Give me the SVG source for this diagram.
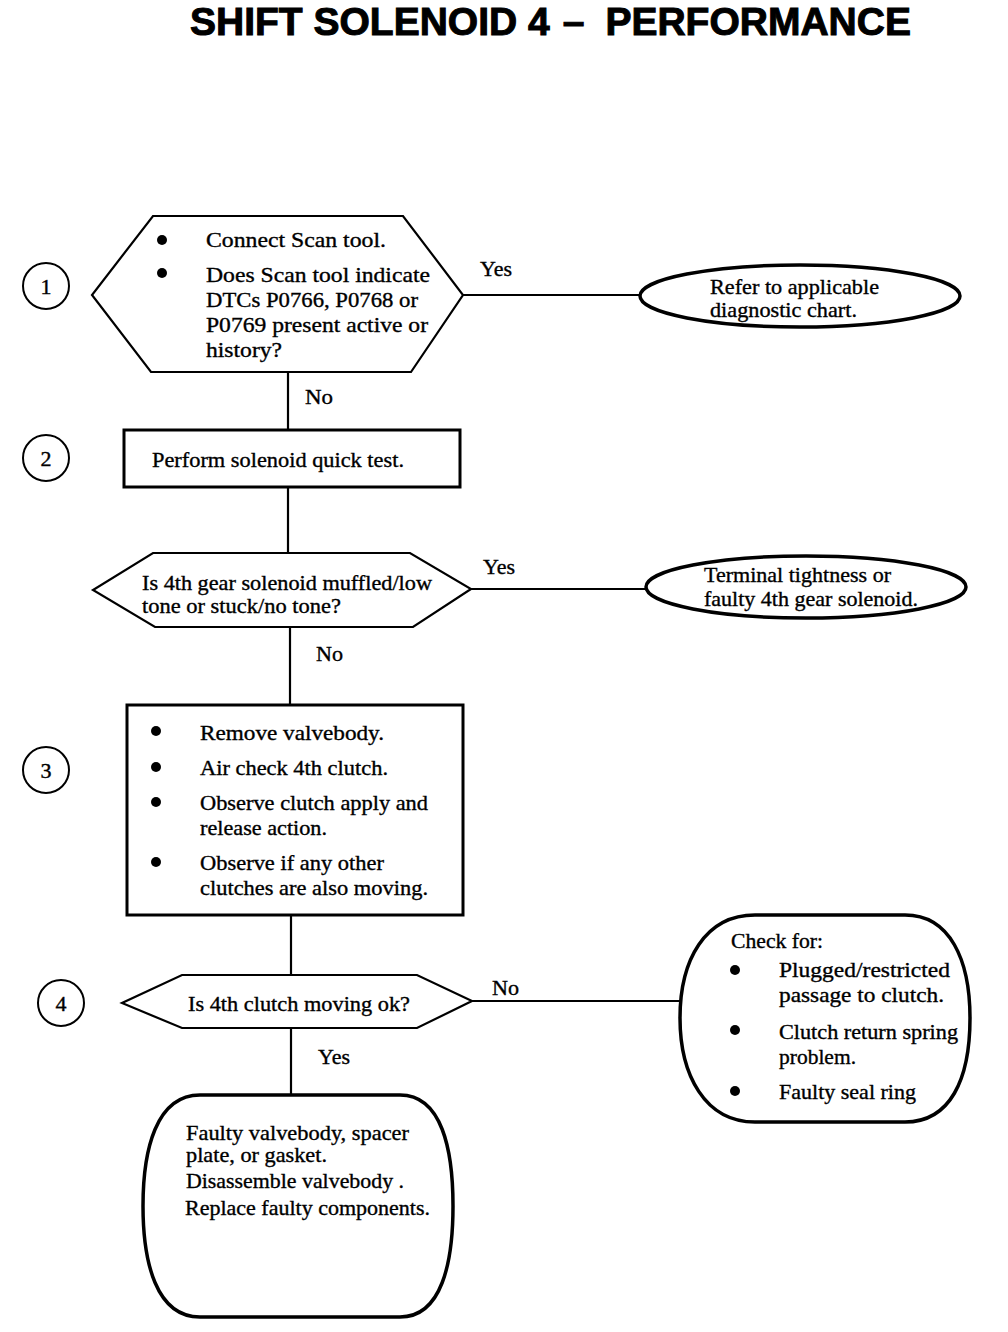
<svg xmlns="http://www.w3.org/2000/svg" width="1008" height="1332" viewBox="0 0 1008 1332">
<style>
  .t { font-family: "Liberation Sans", Arial, sans-serif; }
  .t { font-family: "Liberation Serif", "Times New Roman", serif; font-size: 21px; fill: #000; stroke: #000; stroke-width: 0.35; }
  .title { font-family: "Liberation Sans", Arial, sans-serif; font-size: 39px; font-weight: bold; fill: #000; stroke: #000; stroke-width: 1; }
  .num { font-family: "Liberation Serif", "Times New Roman", serif; font-size: 22px; fill: #000; stroke: #000; stroke-width: 0.4; text-anchor: middle; }
  .hex { fill: #fff; stroke: #000; stroke-width: 2.2; }
  .box { fill: #fff; stroke: #000; stroke-width: 3; }
  .term { fill: #fff; stroke: #000; stroke-width: 3.5; }
  .circ { fill: #fff; stroke: #000; stroke-width: 2; }
  .conn line { stroke: #000; stroke-width: 2.2; }
</style>
<rect width="1008" height="1332" fill="#fff"/>
<g id="title">
  <text class="title" x="190" y="35">SHIFT SOLENOID 4<tspan dx="13">–</tspan><tspan dx="21">PERFORMANCE</tspan></text>
</g>

<g id="connectors" class="conn">
  <line x1="463" y1="295" x2="641" y2="295"/>
  <line x1="288" y1="372" x2="288" y2="430"/>
  <line x1="288" y1="487" x2="288" y2="553"/>
  <line x1="471" y1="589" x2="646" y2="589"/>
  <line x1="290" y1="627" x2="290" y2="705"/>
  <line x1="291" y1="915" x2="291" y2="975"/>
  <line x1="472" y1="1001" x2="680" y2="1001"/>
  <line x1="291" y1="1028" x2="291" y2="1095"/>
  <text class="t" x="480" y="276" textLength="32" lengthAdjust="spacingAndGlyphs">Yes</text>
  <text class="t" x="305" y="404" textLength="28" lengthAdjust="spacingAndGlyphs">No</text>
  <text class="t" x="483" y="574" textLength="32" lengthAdjust="spacingAndGlyphs">Yes</text>
  <text class="t" x="316" y="661" textLength="27" lengthAdjust="spacingAndGlyphs">No</text>
  <text class="t" x="492" y="995" textLength="27" lengthAdjust="spacingAndGlyphs">No</text>
  <text class="t" x="318" y="1064" textLength="32" lengthAdjust="spacingAndGlyphs">Yes</text>
</g>

<g id="step1">
  <circle class="circ" cx="46" cy="286" r="23"/>
  <text class="num" x="46" y="294">1</text>
</g>
<g id="step2">
  <circle class="circ" cx="46" cy="458" r="23"/>
  <text class="num" x="46" y="466">2</text>
</g>
<g id="step3">
  <circle class="circ" cx="46" cy="770" r="23"/>
  <text class="num" x="46" y="778">3</text>
</g>
<g id="step4">
  <circle class="circ" cx="61" cy="1003" r="23"/>
  <text class="num" x="61" y="1011">4</text>
</g>

<g id="node-scan">
  <polygon class="hex" points="153,216 403,216 463,295 411,372 151,372 92,295"/>
  <circle cx="162" cy="240" r="5"/>
  <circle cx="162" cy="273" r="5"/>
  <text class="t" x="206" y="247" textLength="180" lengthAdjust="spacingAndGlyphs">Connect Scan tool.</text>
  <text class="t" x="206" y="282" textLength="224" lengthAdjust="spacingAndGlyphs">Does Scan tool indicate</text>
  <text class="t" x="206" y="307" textLength="212" lengthAdjust="spacingAndGlyphs">DTCs P0766, P0768 or</text>
  <text class="t" x="206" y="332" textLength="222" lengthAdjust="spacingAndGlyphs">P0769 present active or</text>
  <text class="t" x="206" y="357" textLength="76" lengthAdjust="spacingAndGlyphs">history?</text>
</g>

<g id="node-refer">
  <ellipse class="term" cx="800" cy="296" rx="160" ry="31"/>
  <text class="t" x="710" y="294" textLength="169" lengthAdjust="spacingAndGlyphs">Refer to applicable</text>
  <text class="t" x="710" y="317" textLength="147" lengthAdjust="spacingAndGlyphs">diagnostic chart.</text>
</g>

<g id="node-quicktest">
  <rect class="box" x="124" y="430" width="336" height="57"/>
  <text class="t" x="152" y="467" textLength="252" lengthAdjust="spacingAndGlyphs">Perform solenoid quick test.</text>
</g>

<g id="node-tone">
  <polygon class="hex" points="153,553 410,553 471,589 413,627 155,627 93,590"/>
  <text class="t" x="142" y="590" textLength="290" lengthAdjust="spacingAndGlyphs">Is 4th gear solenoid muffled/low</text>
  <text class="t" x="142" y="613" textLength="199" lengthAdjust="spacingAndGlyphs">tone or stuck/no tone?</text>
</g>

<g id="node-terminal">
  <ellipse class="term" cx="806" cy="587" rx="160" ry="31"/>
  <text class="t" x="704" y="582" textLength="187" lengthAdjust="spacingAndGlyphs">Terminal tightness or</text>
  <text class="t" x="704" y="606" textLength="214" lengthAdjust="spacingAndGlyphs">faulty 4th gear solenoid.</text>
</g>

<g id="node-valvebody">
  <rect class="box" x="127" y="705" width="336" height="210"/>
  <circle cx="156" cy="731" r="5"/>
  <circle cx="156" cy="767" r="5"/>
  <circle cx="156" cy="802" r="5"/>
  <circle cx="156" cy="862" r="5"/>
  <text class="t" x="200" y="740" textLength="184" lengthAdjust="spacingAndGlyphs">Remove valvebody.</text>
  <text class="t" x="200" y="775" textLength="188" lengthAdjust="spacingAndGlyphs">Air check 4th clutch.</text>
  <text class="t" x="200" y="810" textLength="228" lengthAdjust="spacingAndGlyphs">Observe clutch apply and</text>
  <text class="t" x="200" y="835" textLength="127" lengthAdjust="spacingAndGlyphs">release action.</text>
  <text class="t" x="200" y="870" textLength="184" lengthAdjust="spacingAndGlyphs">Observe if any other</text>
  <text class="t" x="200" y="895" textLength="228" lengthAdjust="spacingAndGlyphs">clutches are also moving.</text>
</g>

<g id="node-clutch">
  <polygon class="hex" points="182,975 417,975 472,1001 417,1028 182,1028 122,1003"/>
  <text class="t" x="188" y="1011" textLength="222" lengthAdjust="spacingAndGlyphs">Is 4th clutch moving ok?</text>
</g>

<g id="node-checkfor">
  <path class="term" d="M 755,915 L 905,915 C 950,915 970,960 970,1018 C 970,1080 950,1122 905,1122 L 755,1122 C 705,1122 680,1075 680,1018 C 680,960 705,915 755,915 Z"/>
  <text class="t" x="731" y="948" textLength="92" lengthAdjust="spacingAndGlyphs">Check for:</text>
  <circle cx="735" cy="970" r="5"/>
  <circle cx="735" cy="1030" r="5"/>
  <circle cx="735" cy="1091" r="5"/>
  <text class="t" x="779" y="977" textLength="171" lengthAdjust="spacingAndGlyphs">Plugged/restricted</text>
  <text class="t" x="779" y="1002" textLength="165" lengthAdjust="spacingAndGlyphs">passage to clutch.</text>
  <text class="t" x="779" y="1039" textLength="179" lengthAdjust="spacingAndGlyphs">Clutch return spring</text>
  <text class="t" x="779" y="1064" textLength="77" lengthAdjust="spacingAndGlyphs">problem.</text>
  <text class="t" x="779" y="1099" textLength="137" lengthAdjust="spacingAndGlyphs">Faulty seal ring</text>
</g>

<g id="node-faulty">
  <path class="term" d="M 200,1095 L 400,1095 C 442,1095 453,1150 453,1206 C 453,1262 442,1317 400,1317 L 200,1317 C 156,1317 143,1262 143,1206 C 143,1150 156,1095 200,1095 Z"/>
  <text class="t" x="186" y="1140" textLength="223" lengthAdjust="spacingAndGlyphs">Faulty valvebody, spacer</text>
  <text class="t" x="186" y="1162" textLength="141" lengthAdjust="spacingAndGlyphs">plate, or gasket.</text>
  <text class="t" x="186" y="1188" textLength="218" lengthAdjust="spacingAndGlyphs">Disassemble valvebody .</text>
  <text class="t" x="185" y="1215" textLength="245" lengthAdjust="spacingAndGlyphs">Replace faulty components.</text>
</g>
</svg>
